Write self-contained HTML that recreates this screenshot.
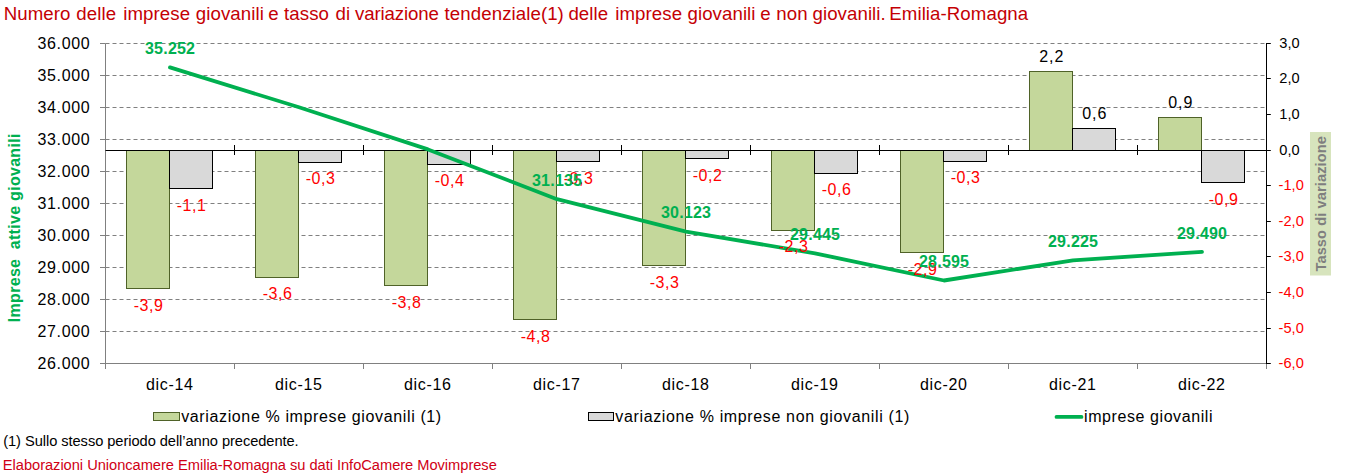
<!DOCTYPE html><html><head><meta charset="utf-8"><style>
html,body{margin:0;padding:0;background:#fff;}
svg{display:block;font-family:"Liberation Sans",sans-serif;}
</style></head><body>
<svg width="1356" height="474" viewBox="0 0 1356 474">
<rect width="1356" height="474" fill="#fff"/>
<text y="19.8" font-size="18.67" fill="#C40004" letter-spacing="0.076"><tspan x="3.70">Numero</tspan><tspan x="76.37">delle</tspan><tspan x="123.23">imprese</tspan><tspan x="195.77">giovanili</tspan><tspan x="268.33">e</tspan><tspan x="284.04">tasso</tspan><tspan x="335.54">di</tspan><tspan x="355.07" letter-spacing="-0.13">variazione</tspan><tspan x="444.62">tendenziale(1)</tspan><tspan x="568.38">delle</tspan><tspan x="615.25">imprese</tspan><tspan x="687.48">giovanili</tspan><tspan x="760.34">e</tspan><tspan x="776.25">non</tspan><tspan x="812.47">giovanili.</tspan><tspan x="889.29">Emilia-Romagna</tspan></text>
<line x1="105.5" x2="1266.5" y1="43.5" y2="43.5" stroke="#808080" stroke-width="1" stroke-dasharray="4,3"/>
<line x1="105.5" x2="1266.5" y1="75.5" y2="75.5" stroke="#808080" stroke-width="1" stroke-dasharray="4,3"/>
<line x1="105.5" x2="1266.5" y1="107.5" y2="107.5" stroke="#808080" stroke-width="1" stroke-dasharray="4,3"/>
<line x1="105.5" x2="1266.5" y1="139.5" y2="139.5" stroke="#808080" stroke-width="1" stroke-dasharray="4,3"/>
<line x1="105.5" x2="1266.5" y1="171.5" y2="171.5" stroke="#808080" stroke-width="1" stroke-dasharray="4,3"/>
<line x1="105.5" x2="1266.5" y1="203.5" y2="203.5" stroke="#808080" stroke-width="1" stroke-dasharray="4,3"/>
<line x1="105.5" x2="1266.5" y1="235.5" y2="235.5" stroke="#808080" stroke-width="1" stroke-dasharray="4,3"/>
<line x1="105.5" x2="1266.5" y1="267.5" y2="267.5" stroke="#808080" stroke-width="1" stroke-dasharray="4,3"/>
<line x1="105.5" x2="1266.5" y1="299.5" y2="299.5" stroke="#808080" stroke-width="1" stroke-dasharray="4,3"/>
<line x1="105.5" x2="1266.5" y1="331.5" y2="331.5" stroke="#808080" stroke-width="1" stroke-dasharray="4,3"/>
<rect x="126.50" y="150.50" width="43.00" height="138.00" fill="#C4D79B" stroke="#4F6228" stroke-width="1"/>
<rect x="169.50" y="150.50" width="43.00" height="38.00" fill="#D9D9D9" stroke="#000" stroke-width="1"/>
<rect x="255.50" y="150.50" width="43.00" height="127.00" fill="#C4D79B" stroke="#4F6228" stroke-width="1"/>
<rect x="298.50" y="150.50" width="43.00" height="12.00" fill="#D9D9D9" stroke="#000" stroke-width="1"/>
<rect x="384.50" y="150.50" width="43.00" height="135.00" fill="#C4D79B" stroke="#4F6228" stroke-width="1"/>
<rect x="427.50" y="150.50" width="43.00" height="14.00" fill="#D9D9D9" stroke="#000" stroke-width="1"/>
<rect x="513.50" y="150.50" width="43.00" height="169.00" fill="#C4D79B" stroke="#4F6228" stroke-width="1"/>
<rect x="556.50" y="150.50" width="43.00" height="11.00" fill="#D9D9D9" stroke="#000" stroke-width="1"/>
<rect x="642.50" y="150.50" width="43.00" height="115.00" fill="#C4D79B" stroke="#4F6228" stroke-width="1"/>
<rect x="685.50" y="150.50" width="43.00" height="8.00" fill="#D9D9D9" stroke="#000" stroke-width="1"/>
<rect x="771.50" y="150.50" width="43.00" height="80.00" fill="#C4D79B" stroke="#4F6228" stroke-width="1"/>
<rect x="814.50" y="150.50" width="43.00" height="23.00" fill="#D9D9D9" stroke="#000" stroke-width="1"/>
<rect x="900.50" y="150.50" width="43.00" height="102.00" fill="#C4D79B" stroke="#4F6228" stroke-width="1"/>
<rect x="943.50" y="150.50" width="43.00" height="11.00" fill="#D9D9D9" stroke="#000" stroke-width="1"/>
<rect x="1029.50" y="71.50" width="43.00" height="79.00" fill="#C4D79B" stroke="#4F6228" stroke-width="1"/>
<rect x="1072.50" y="128.50" width="43.00" height="22.00" fill="#D9D9D9" stroke="#000" stroke-width="1"/>
<rect x="1158.50" y="117.50" width="43.00" height="33.00" fill="#C4D79B" stroke="#4F6228" stroke-width="1"/>
<rect x="1201.50" y="150.50" width="43.00" height="32.00" fill="#D9D9D9" stroke="#000" stroke-width="1"/>
<line x1="105.5" x2="105.5" y1="43.5" y2="369.0" stroke="#808080"/>
<line x1="100.0" x2="1266.5" y1="363.5" y2="363.5" stroke="#808080"/>
<line x1="100.0" x2="105.5" y1="43.5" y2="43.5" stroke="#808080"/>
<line x1="100.0" x2="105.5" y1="75.5" y2="75.5" stroke="#808080"/>
<line x1="100.0" x2="105.5" y1="107.5" y2="107.5" stroke="#808080"/>
<line x1="100.0" x2="105.5" y1="139.5" y2="139.5" stroke="#808080"/>
<line x1="100.0" x2="105.5" y1="171.5" y2="171.5" stroke="#808080"/>
<line x1="100.0" x2="105.5" y1="203.5" y2="203.5" stroke="#808080"/>
<line x1="100.0" x2="105.5" y1="235.5" y2="235.5" stroke="#808080"/>
<line x1="100.0" x2="105.5" y1="267.5" y2="267.5" stroke="#808080"/>
<line x1="100.0" x2="105.5" y1="299.5" y2="299.5" stroke="#808080"/>
<line x1="100.0" x2="105.5" y1="331.5" y2="331.5" stroke="#808080"/>
<line x1="234.5" x2="234.5" y1="363.5" y2="369.0" stroke="#808080"/>
<line x1="363.5" x2="363.5" y1="363.5" y2="369.0" stroke="#808080"/>
<line x1="492.5" x2="492.5" y1="363.5" y2="369.0" stroke="#808080"/>
<line x1="621.5" x2="621.5" y1="363.5" y2="369.0" stroke="#808080"/>
<line x1="750.5" x2="750.5" y1="363.5" y2="369.0" stroke="#808080"/>
<line x1="879.5" x2="879.5" y1="363.5" y2="369.0" stroke="#808080"/>
<line x1="1008.5" x2="1008.5" y1="363.5" y2="369.0" stroke="#808080"/>
<line x1="1137.5" x2="1137.5" y1="363.5" y2="369.0" stroke="#808080"/>
<line x1="1266.5" x2="1266.5" y1="363.5" y2="369.0" stroke="#808080"/>
<line x1="105.5" x2="1266.5" y1="150.5" y2="150.5" stroke="#000"/>
<line x1="234.5" x2="234.5" y1="145" y2="155" stroke="#000"/>
<line x1="363.5" x2="363.5" y1="145" y2="155" stroke="#000"/>
<line x1="492.5" x2="492.5" y1="145" y2="155" stroke="#000"/>
<line x1="621.5" x2="621.5" y1="145" y2="155" stroke="#000"/>
<line x1="750.5" x2="750.5" y1="145" y2="155" stroke="#000"/>
<line x1="879.5" x2="879.5" y1="145" y2="155" stroke="#000"/>
<line x1="1008.5" x2="1008.5" y1="145" y2="155" stroke="#000"/>
<line x1="1137.5" x2="1137.5" y1="145" y2="155" stroke="#000"/>
<line x1="1266.5" x2="1266.5" y1="43.0" y2="364.0" stroke="#000"/>
<line x1="1266.5" x2="1270.8" y1="43.50" y2="43.50" stroke="#000"/>
<text x="1279.30" y="47.80" font-size="15.5" fill="#000" textLength="20.30" lengthAdjust="spacingAndGlyphs">3,0</text>
<line x1="1266.5" x2="1270.8" y1="78.50" y2="78.50" stroke="#000"/>
<text x="1279.30" y="82.80" font-size="15.5" fill="#000" textLength="20.30" lengthAdjust="spacingAndGlyphs">2,0</text>
<line x1="1266.5" x2="1270.8" y1="114.50" y2="114.50" stroke="#000"/>
<text x="1279.30" y="118.80" font-size="15.5" fill="#000" textLength="20.30" lengthAdjust="spacingAndGlyphs">1,0</text>
<line x1="1266.5" x2="1270.8" y1="150.50" y2="150.50" stroke="#000"/>
<text x="1279.30" y="154.80" font-size="15.5" fill="#000" textLength="20.30" lengthAdjust="spacingAndGlyphs">0,0</text>
<line x1="1266.5" x2="1270.8" y1="185.50" y2="185.50" stroke="#000"/>
<text x="1278.60" y="189.80" font-size="15.5" fill="#FF0000" textLength="25.20" lengthAdjust="spacingAndGlyphs">-1,0</text>
<line x1="1266.5" x2="1270.8" y1="221.50" y2="221.50" stroke="#000"/>
<text x="1278.60" y="225.80" font-size="15.5" fill="#FF0000" textLength="25.20" lengthAdjust="spacingAndGlyphs">-2,0</text>
<line x1="1266.5" x2="1270.8" y1="256.50" y2="256.50" stroke="#000"/>
<text x="1278.60" y="260.80" font-size="15.5" fill="#FF0000" textLength="25.20" lengthAdjust="spacingAndGlyphs">-3,0</text>
<line x1="1266.5" x2="1270.8" y1="292.50" y2="292.50" stroke="#000"/>
<text x="1278.60" y="296.80" font-size="15.5" fill="#FF0000" textLength="25.20" lengthAdjust="spacingAndGlyphs">-4,0</text>
<line x1="1266.5" x2="1270.8" y1="328.50" y2="328.50" stroke="#000"/>
<text x="1278.60" y="332.80" font-size="15.5" fill="#FF0000" textLength="25.20" lengthAdjust="spacingAndGlyphs">-5,0</text>
<line x1="1266.5" x2="1270.8" y1="363.50" y2="363.50" stroke="#000"/>
<text x="1278.60" y="367.80" font-size="15.5" fill="#FF0000" textLength="25.20" lengthAdjust="spacingAndGlyphs">-6,0</text>
<text x="89.60" y="49.10" font-size="16" fill="#000" text-anchor="end" textLength="52.00">36.000</text>
<text x="89.60" y="81.10" font-size="16" fill="#000" text-anchor="end" textLength="52.00">35.000</text>
<text x="89.60" y="113.10" font-size="16" fill="#000" text-anchor="end" textLength="52.00">34.000</text>
<text x="89.60" y="145.10" font-size="16" fill="#000" text-anchor="end" textLength="52.00">33.000</text>
<text x="89.60" y="177.10" font-size="16" fill="#000" text-anchor="end" textLength="52.00">32.000</text>
<text x="89.60" y="209.10" font-size="16" fill="#000" text-anchor="end" textLength="52.00">31.000</text>
<text x="89.60" y="241.10" font-size="16" fill="#000" text-anchor="end" textLength="52.00">30.000</text>
<text x="89.60" y="273.10" font-size="16" fill="#000" text-anchor="end" textLength="52.00">29.000</text>
<text x="89.60" y="305.10" font-size="16" fill="#000" text-anchor="end" textLength="52.00">28.000</text>
<text x="89.60" y="337.10" font-size="16" fill="#000" text-anchor="end" textLength="52.00">27.000</text>
<text x="89.60" y="369.10" font-size="16" fill="#000" text-anchor="end" textLength="52.00">26.000</text>
<text x="169.50" y="390.00" font-size="16" fill="#000" text-anchor="middle" textLength="47.00">dic-14</text>
<text x="298.50" y="390.00" font-size="16" fill="#000" text-anchor="middle" textLength="47.00">dic-15</text>
<text x="427.50" y="390.00" font-size="16" fill="#000" text-anchor="middle" textLength="47.00">dic-16</text>
<text x="556.50" y="390.00" font-size="16" fill="#000" text-anchor="middle" textLength="47.00">dic-17</text>
<text x="685.50" y="390.00" font-size="16" fill="#000" text-anchor="middle" textLength="47.00">dic-18</text>
<text x="814.50" y="390.00" font-size="16" fill="#000" text-anchor="middle" textLength="47.00">dic-19</text>
<text x="943.50" y="390.00" font-size="16" fill="#000" text-anchor="middle" textLength="47.00">dic-20</text>
<text x="1072.50" y="390.00" font-size="16" fill="#000" text-anchor="middle" textLength="47.00">dic-21</text>
<text x="1201.50" y="390.00" font-size="16" fill="#000" text-anchor="middle" textLength="47.00">dic-22</text>
<polyline points="170.0,67.4 299.0,107.3 428.0,149.4 557.0,199.2 686.0,231.6 815.0,253.3 944.0,280.5 1073.0,260.3 1202.0,251.8" fill="none" stroke="#00B050" stroke-width="3.8" stroke-linejoin="round" stroke-linecap="round"/>
<text x="148.30" y="310.72" font-size="16" fill="#FF0000" text-anchor="middle" textLength="29.00">-3,9</text>
<text x="191.30" y="211.17" font-size="16" fill="#FF0000" text-anchor="middle" textLength="29.00">-1,1</text>
<text x="277.30" y="298.80" font-size="16" fill="#FF0000" text-anchor="middle" textLength="29.00">-3,6</text>
<text x="320.30" y="184.20" font-size="16" fill="#FF0000" text-anchor="middle" textLength="29.00">-0,3</text>
<text x="406.30" y="307.88" font-size="16" fill="#FF0000" text-anchor="middle" textLength="29.00">-3,8</text>
<text x="449.30" y="185.70" font-size="16" fill="#FF0000" text-anchor="middle" textLength="29.00">-0,4</text>
<text x="535.30" y="342.01" font-size="16" fill="#FF0000" text-anchor="middle" textLength="29.00">-4,8</text>
<text x="578.30" y="183.79" font-size="16" fill="#FF0000" text-anchor="middle" textLength="29.00">-0,3</text>
<text x="664.30" y="287.97" font-size="16" fill="#FF0000" text-anchor="middle" textLength="29.00">-3,3</text>
<text x="707.30" y="180.70" font-size="16" fill="#FF0000" text-anchor="middle" textLength="29.00">-0,2</text>
<text x="793.30" y="251.90" font-size="16" fill="#FF0000" text-anchor="middle" textLength="29.00">-2,3</text>
<text x="836.30" y="194.90" font-size="16" fill="#FF0000" text-anchor="middle" textLength="29.00">-0,6</text>
<text x="922.30" y="275.17" font-size="16" fill="#FF0000" text-anchor="middle" textLength="29.00">-2,9</text>
<text x="965.30" y="182.70" font-size="16" fill="#FF0000" text-anchor="middle" textLength="29.00">-0,3</text>
<text x="1051.30" y="62.39" font-size="16" fill="#000" text-anchor="middle" textLength="24.00">2,2</text>
<text x="1094.30" y="119.28" font-size="16" fill="#000" text-anchor="middle" textLength="24.00">0,6</text>
<text x="1180.30" y="108.26" font-size="16" fill="#000" text-anchor="middle" textLength="24.00">0,9</text>
<text x="1223.30" y="204.98" font-size="16" fill="#FF0000" text-anchor="middle" textLength="29.00">-0,9</text>
<text x="170.00" y="53.84" font-size="16" fill="#00B050" text-anchor="middle" textLength="50.00" font-weight="bold">35.252</text>
<text x="557.00" y="185.58" font-size="16" fill="#00B050" text-anchor="middle" textLength="50.00" font-weight="bold">31.135</text>
<text x="686.00" y="217.96" font-size="16" fill="#00B050" text-anchor="middle" textLength="50.00" font-weight="bold">30.123</text>
<text x="815.00" y="239.66" font-size="16" fill="#00B050" text-anchor="middle" textLength="50.00" font-weight="bold">29.445</text>
<text x="944.00" y="266.86" font-size="16" fill="#00B050" text-anchor="middle" textLength="50.00" font-weight="bold">28.595</text>
<text x="1073.00" y="246.70" font-size="16" fill="#00B050" text-anchor="middle" textLength="50.00" font-weight="bold">29.225</text>
<text x="1202.00" y="239.00" font-size="16" fill="#00B050" text-anchor="middle" textLength="50.00" font-weight="bold">29.490</text>
<text transform="translate(20.4,227.9) rotate(-90)" font-size="16" font-weight="bold" text-anchor="middle" fill="#00B050" textLength="188.5" xml:space="preserve">Imprese  attive giovanili</text>
<rect x="1310" y="132" width="21" height="143.5" fill="#D7E4BD"/>
<text transform="translate(1326.3,203.8) rotate(-90)" font-size="14.67" font-weight="bold" text-anchor="middle" fill="#7F7F7F" textLength="135.5">Tasso di variazione</text>
<rect x="153.5" y="412.5" width="26" height="8" fill="#C4D79B" stroke="#4F6228"/>
<text x="181.20" y="422.20" font-size="16" fill="#000" textLength="260.00">variazione % imprese giovanili (1)</text>
<rect x="588.5" y="412.5" width="25" height="8" fill="#D9D9D9" stroke="#000"/>
<text x="615.30" y="422.20" font-size="16" fill="#000" textLength="294.00">variazione % imprese non giovanili (1)</text>
<line x1="1056.5" x2="1081.5" y1="416.9" y2="416.9" stroke="#00B050" stroke-width="3.8" stroke-linecap="round"/>
<text x="1084.00" y="422.20" font-size="16" fill="#000" textLength="128.50">imprese giovanili</text>
<text x="3.20" y="445.80" font-size="14.67" fill="#000" textLength="295.50">(1) Sullo stesso periodo dell’anno precedente.</text>
<text x="2.80" y="469.90" font-size="14.67" fill="#D00015" textLength="494.00">Elaborazioni Unioncamere Emilia-Romagna su dati InfoCamere Movimprese</text>
</svg></body></html>
